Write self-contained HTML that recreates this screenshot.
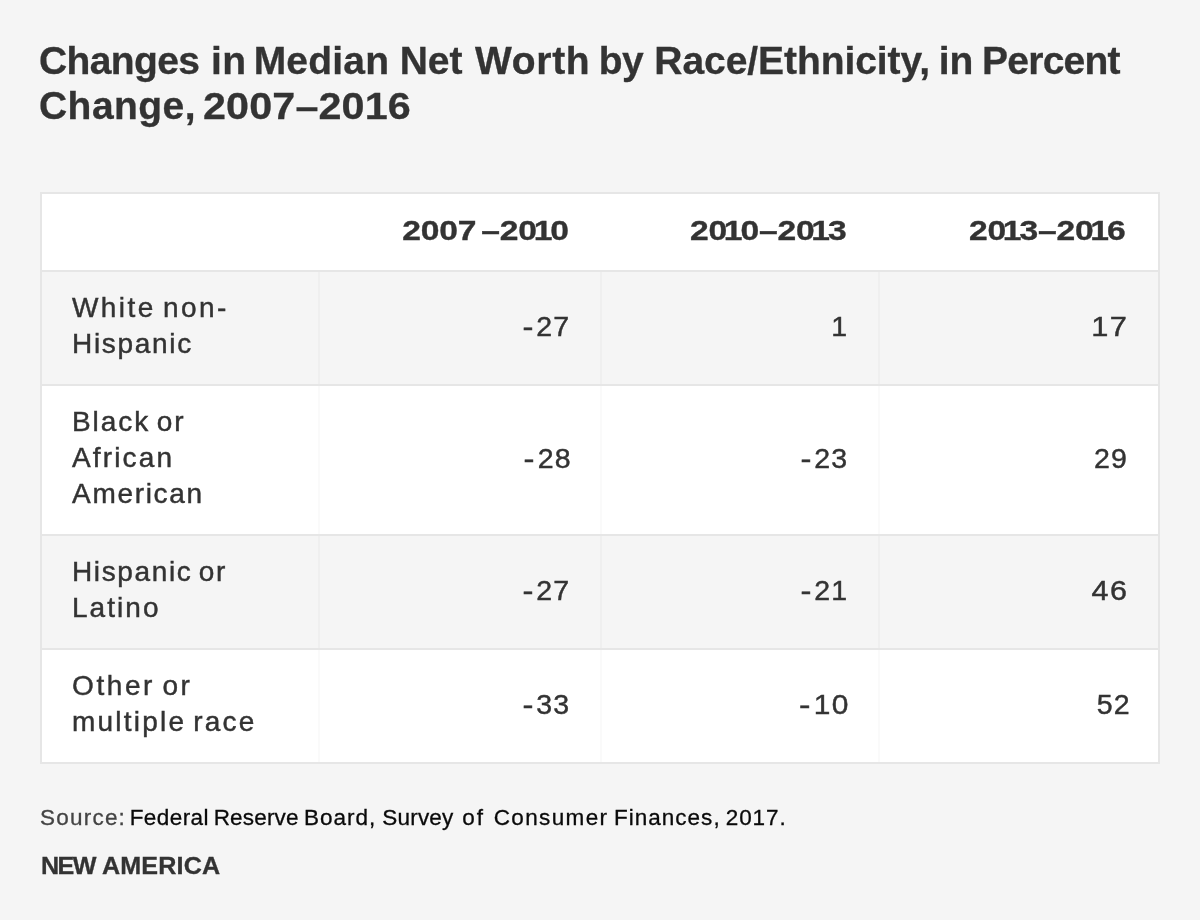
<!DOCTYPE html>
<html lang="en">
<head>
<meta charset="utf-8">
<title>Changes in Median Net Worth by Race/Ethnicity</title>
<style>
*{box-sizing:border-box;margin:0;padding:0}
html,body{width:1200px;height:920px;background:#f5f5f5;overflow:hidden}
body{font-family:"Liberation Sans",sans-serif;color:#333;position:relative}
h1{position:absolute;left:40px;top:38px;font-size:39px;line-height:45px;font-weight:bold;white-space:nowrap;color:#333}
h1 span{position:absolute;display:block;-webkit-text-stroke:0.3px #333}
.tbl{position:absolute;left:40px;top:192px;width:1120px;height:572px;border:2px solid #e6e6e6;background:#fff}
.row{position:absolute;left:0;width:1116px;border-top:2px solid #e6e6e6}
.row.g{background:#f5f5f5}
.c{-webkit-text-stroke:0.45px #333;position:absolute;top:0;height:100%;display:flex;align-items:center;justify-content:flex-end;padding-right:28.5px;padding-bottom:5px;font-size:28.5px;line-height:36px;letter-spacing:2.2px;border-left:2px solid #fafafa}
.g .c{border-left-color:#efefef}
.c.l{left:0;width:276px;justify-content:flex-start;padding:0 0 3.6px 30px;word-spacing:-3px;border-left:none;letter-spacing:1.7px;font-size:28px;white-space:nowrap}
.c.c2{left:276px;width:282px}
.c.c3{left:558px;width:278px}
.c.c4{left:836px;width:280px}
.n{display:inline-block;letter-spacing:1.3px;margin-right:1px;transform-origin:100% 50%}
.n u{text-decoration:none;margin-right:1.6px;display:inline-block;transform:scaleX(1.15);transform-origin:100% 50%}
.hd .c{-webkit-text-stroke:0.35px #333;padding-right:33px;padding-bottom:2px;font-weight:bold;font-size:28px;letter-spacing:-0.15px;border-left:none}
.hd .c span{display:inline-block;transform:scaleX(1.2);transform-origin:100% 50%;white-space:nowrap}
.hd i{font-style:normal;margin:0 -1.6px 0 -2.6px}
.hd b{margin-right:4.2px}
.src{position:absolute;left:40px;top:803px;font-size:22.5px;line-height:30px;color:#0a0a0a;white-space:nowrap}
.src span{position:absolute;top:0;display:block;-webkit-text-stroke:0.3px #0a0a0a}
.src .k{color:#444;-webkit-text-stroke:0.3px #444}
.brand{position:absolute;left:40px;top:851.5px;font-size:23.5px;line-height:28px;font-weight:bold;color:#333;white-space:nowrap}
.brand span{position:absolute;top:0;display:block;transform:scaleX(1.07);transform-origin:0 50%;-webkit-text-stroke:0.3px #333}
</style>
</head>
<body>
<h1><span style="left:-1.0px;top:0px;letter-spacing:-0.62px">Changes</span> <span style="left:171.0px;top:0px;letter-spacing:0.30px">in</span> <span style="left:213.7px;top:0px;letter-spacing:0.20px">Median</span> <span style="left:359.7px;top:0px;letter-spacing:0.00px">Net</span> <span style="left:435.0px;top:0px;letter-spacing:0.68px">Worth</span> <span style="left:558.7px;top:0px;letter-spacing:-0.40px">by</span> <span style="left:614.3px;top:0px;letter-spacing:-0.07px">Race/Ethnicity,</span> <span style="left:898.7px;top:0px;letter-spacing:0.00px">in</span> <span style="left:942.0px;top:0px;letter-spacing:-0.75px">Percent</span> <span style="left:-1.0px;top:45px;letter-spacing:0.45px">Change,</span> <span style="left:163.0px;top:45px;letter-spacing:0.1px;transform:scale(1.06,0.945);transform-origin:0 80%">2007–2016</span></h1>
<div class="tbl">
  <div class="row hd" style="top:0;height:76px;border-top:none"><div class="c l"></div><div class="c c2"><span style="margin-right:-2px">200<b>7</b>–20<i>1</i>0</span></div><div class="c c3"><span style="margin-right:-1.5px">20<i>1</i>0–20<i>1</i>3</span></div><div class="c c4"><span style="margin-right:-0.7px">20<i>1</i>3–20<i>1</i>6</span></div></div>
  <div class="row g" style="top:76px;height:114px"><div class="c l"><div><span style="letter-spacing:2.43px">White non-</span><br><span style="letter-spacing:1.7px">Hispanic</span></div></div><div class="c c2"><span class="n"><u>-</u>27</span></div><div class="c c3"><span class="n">1</span></div><div class="c c4"><span class="n" style="transform:scaleX(1.08)">17</span></div></div>
  <div class="row" style="top:190px;height:150px"><div class="c l"><div><span style="letter-spacing:1.93px">Black or</span><br><span style="letter-spacing:2.15px">African</span><br><span style="letter-spacing:1.7px">American</span></div></div><div class="c c2"><span class="n" style="margin-right:-0.5px"><u>-</u>28</span></div><div class="c c3"><span class="n"><u>-</u>23</span></div><div class="c c4"><span class="n" style="margin-right:1.3px">29</span></div></div>
  <div class="row g" style="top:340px;height:114px"><div class="c l"><div><span style="letter-spacing:1.63px">Hispanic or</span><br><span style="letter-spacing:2.05px">Latino</span></div></div><div class="c c2"><span class="n"><u>-</u>27</span></div><div class="c c3"><span class="n"><u>-</u>21</span></div><div class="c c4"><span class="n" style="transform:scaleX(1.07)">46</span></div></div>
  <div class="row" style="top:454px;height:114px"><div class="c l"><div><span style="letter-spacing:2.6px">Other or</span><br><span style="letter-spacing:2.22px">multiple race</span></div></div><div class="c c2"><span class="n"><u>-</u>33</span></div><div class="c c3"><span class="n" style="transform:scaleX(1.05);margin-right:0"><u>-</u>10</span></div><div class="c c4"><span class="n" style="margin-right:-1.5px">52</span></div></div>
</div>
<div class="src"><span class="k" style="left:0.0px;letter-spacing:1.22px">Source:</span> <span style="left:89.7px;letter-spacing:0.43px">Federal</span> <span style="left:173.7px;letter-spacing:0.17px">Reserve</span> <span style="left:264.0px;letter-spacing:1.00px">Board,</span> <span style="left:342.3px;letter-spacing:0.20px">Survey</span> <span style="left:422.3px;letter-spacing:2.00px">of</span> <span style="left:453.7px;letter-spacing:1.36px">Consumer</span> <span style="left:574.0px;letter-spacing:1.01px">Finances,</span> <span style="left:685.7px;letter-spacing:0.95px">2017.</span></div>
<div class="brand"><span style="left:0.9px;letter-spacing:-1.49px">NEW</span> <span style="left:61.9px;letter-spacing:0.12px">AMERICA</span></div>
</body>
</html>
